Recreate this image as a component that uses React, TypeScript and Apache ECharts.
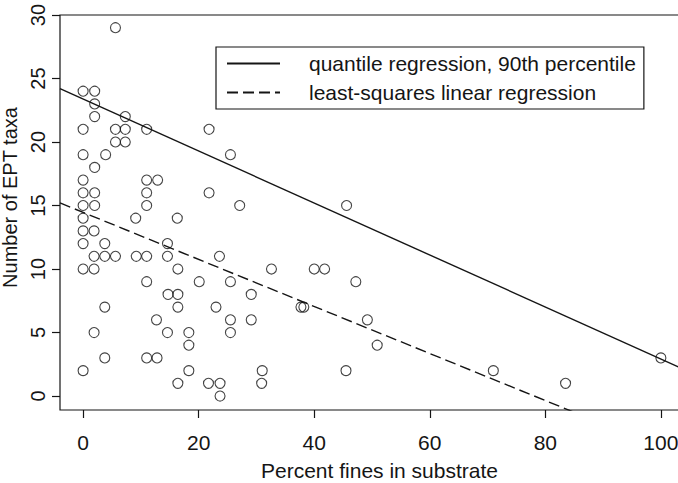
import React, { useEffect, useRef } from "react";
import * as echarts from "echarts";

// Scatter data: percent fines in substrate (x) and number of EPT taxa (y)
const percentFines = [
  5.6,
  0, 2.0,
  2.0,
  2.0, 7.3,
  0, 5.6, 7.3, 11.0, 21.8,
  5.6, 7.3,
  0, 3.9, 25.5,
  2.0,
  0, 11.0, 12.9,
  0, 2.0, 11.0, 21.8,
  0, 2.0, 11.0, 27.1, 45.6,
  0, 9.1, 16.3,
  0, 1.9,
  0, 3.75, 14.6,
  1.9, 3.75, 5.6, 9.2, 11.0, 14.6, 23.6,
  0, 1.9, 16.4, 32.6, 40.0, 41.8,
  11.0, 20.1, 25.5, 47.2,
  14.7, 16.4, 29.1,
  3.75, 16.4, 23.0, 37.7, 38.2,
  12.7, 25.5, 29.1, 49.2,
  1.9, 14.6, 18.3, 25.5,
  18.3, 50.9,
  3.75, 11.0, 12.8, 100,
  0, 18.3, 31.0, 45.5, 71.0,
  16.4, 21.7, 23.7, 30.9, 83.5,
  23.7,
];
const eptTaxa = [
  29,
  24, 24,
  23,
  22, 22,
  21, 21, 21, 21, 21,
  20, 20,
  19, 19, 19,
  18,
  17, 17, 17,
  16, 16, 16, 16,
  15, 15, 15, 15, 15,
  14, 14, 14,
  13, 13,
  12, 12, 12,
  11, 11, 11, 11, 11, 11, 11,
  10, 10, 10, 10, 10, 10,
  9, 9, 9, 9,
  8, 8, 8,
  7, 7, 7, 7, 7,
  6, 6, 6, 6,
  5, 5, 5, 5,
  4, 4,
  3, 3, 3, 3,
  2, 2, 2, 2, 2,
  1, 1, 1, 1, 1,
  0,
];

// Fitted lines (endpoints)
const quantileX = [-4, 104];
const quantileY = [24.2, 2.1];
const leastSquaresX = [-4, 104];
const leastSquaresY = [15.2, -4.8];

const xTicks = [0, 20, 40, 60, 80, 100];
const yTicks = [0, 5, 10, 15, 20, 25, 30];
const seriesNames = [
  "quantile regression, 90th percentile",
  "least-squares linear regression",
];
const xTitle = "Percent fines in substrate";
const yTitle = "Number of EPT taxa";

const INK = "#151515";
const FONT = "'Liberation Sans', Arial, Helvetica, sans-serif";

export default function App() {
  const ref = useRef<HTMLDivElement>(null);

  useEffect(() => {
    if (!ref.current) return;
    const chart = echarts.init(ref.current, undefined, { renderer: "svg" });

    const points = percentFines.map((x, i) => [x, eptTaxa[i]]);
    const qLine = quantileX.map((x, i) => [x, quantileY[i]]);
    const lsLine = leastSquaresX.map((x, i) => [x, leastSquaresY[i]]);

    chart.setOption({
      animation: false,
      backgroundColor: "#ffffff",
      textStyle: { fontFamily: FONT, color: INK },
      grid: {
        left: 60,
        top: 15,
        width: 624,
        height: 395,
        show: true,
        containLabel: false,
        outerBoundsMode: "none",
        borderColor: INK,
        borderWidth: 1.2,
        backgroundColor: "transparent",
      },
      legend: {
        left: 216,
        top: 47,
        orient: "vertical",
        data: seriesNames,
        selectedMode: false,
        backgroundColor: "#ffffff",
        borderColor: INK,
        borderWidth: 1.2,
        borderRadius: 0,
        padding: [6, 8, 6, 10],
        itemWidth: 53,
        itemHeight: 14,
        itemGap: 8,
        itemStyle: { opacity: 0, color: "transparent", borderWidth: 0 },
        textStyle: {
          fontSize: 21,
          color: INK,
          fontFamily: FONT,
          padding: [0, 0, 0, 24],
        },
      },
      xAxis: {
        type: "value",
        min: -4,
        max: 104,
        name: xTitle,
        nameLocation: "middle",
        nameGap: 50,
        nameTextStyle: {
          fontSize: 21,
          color: INK,
          fontFamily: FONT,
          padding: [0, 0, 0, 15],
        },
        splitLine: { show: false },
        axisLine: { show: false, onZero: false },
        axisTick: {
          show: true,
          customValues: xTicks,
          length: 8,
          inside: false,
          lineStyle: { color: INK, width: 1.2 },
        },
        axisLabel: {
          customValues: xTicks,
          margin: 22,
          fontSize: 21,
          color: INK,
          fontFamily: FONT,
        },
      },
      yAxis: {
        type: "value",
        min: -1.1,
        max: 30,
        name: yTitle,
        nameLocation: "middle",
        nameGap: 36,
        nameRotate: 90,
        nameTextStyle: {
          fontSize: 20,
          color: INK,
          fontFamily: FONT,
          padding: [0, 0, 0, 30],
        },
        splitLine: { show: false },
        axisLine: { show: false, onZero: false },
        axisTick: {
          show: true,
          customValues: yTicks,
          length: 8,
          inside: false,
          lineStyle: { color: INK, width: 1.2 },
        },
        axisLabel: {
          customValues: yTicks,
          rotate: 90,
          align: "center",
          verticalAlign: "bottom",
          margin: 12,
          fontSize: 20,
          color: INK,
          fontFamily: FONT,
        },
      },
      series: [
        {
          name: "points",
          type: "scatter",
          data: points,
          symbol: "circle",
          symbolSize: 10,
          itemStyle: {
            color: "transparent",
            borderColor: INK,
            borderWidth: 1.1,
          },
          silent: true,
        },
        {
          name: seriesNames[0],
          type: "line",
          data: qLine,
          symbol: "none",
          clip: true,
          lineStyle: { color: INK, width: 1.4, type: "solid" },
          itemStyle: { color: "transparent", borderWidth: 0 },
          silent: true,
        },
        {
          name: seriesNames[1],
          type: "line",
          data: lsLine,
          symbol: "none",
          clip: true,
          lineStyle: { color: INK, width: 1.4, type: [11, 5] },
          itemStyle: { color: "transparent", borderWidth: 0 },
          silent: true,
        },
      ],
    });

    return () => chart.dispose();
  }, []);

  return (
    <div
      ref={ref}
      style={{
        position: "fixed",
        left: 0,
        top: 0,
        width: 678,
        height: 483,
        background: "#fff",
      }}
    />
  );
}
